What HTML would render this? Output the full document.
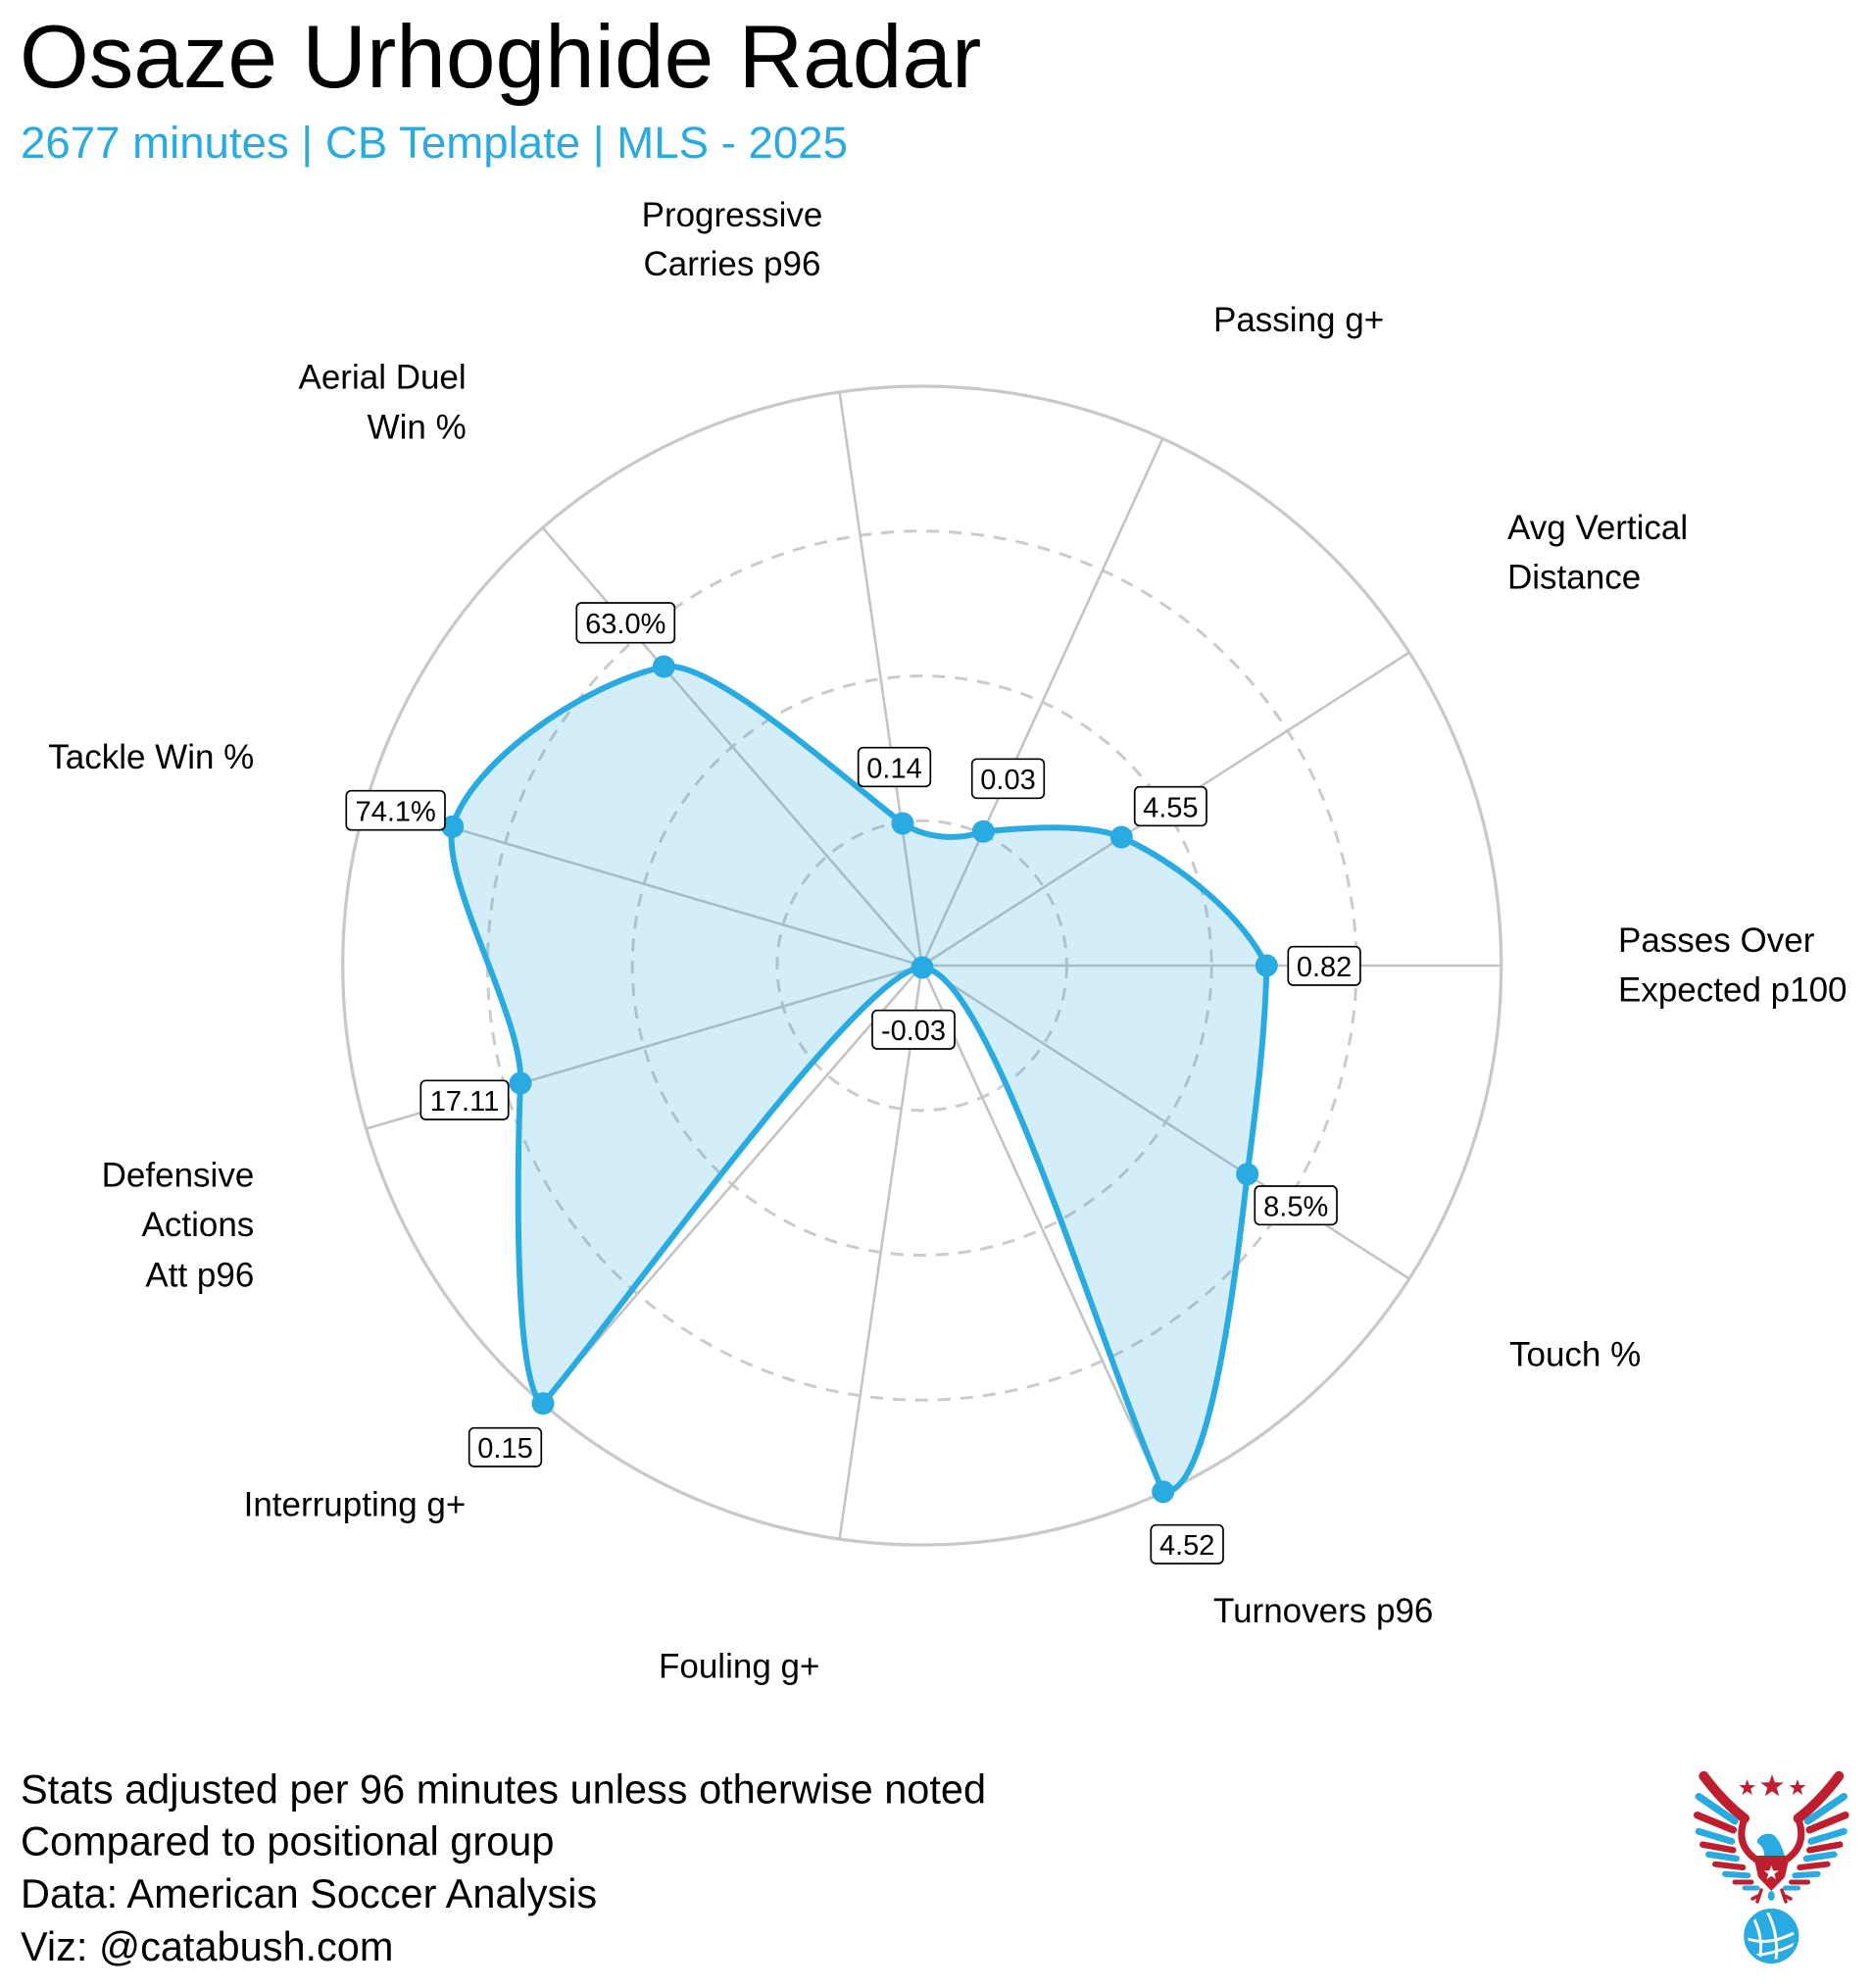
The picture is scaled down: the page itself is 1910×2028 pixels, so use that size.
<!DOCTYPE html>
<html>
<head>
<meta charset="utf-8">
<style>
  html, body { margin: 0; padding: 0; background: #ffffff; }
  svg { display: block; }
  text { font-family: "Liberation Sans", Arial, Helvetica, sans-serif; }
</style>
</head>
<body>
<svg width="1910" height="2028" viewBox="0 0 1910 2028" xmlns="http://www.w3.org/2000/svg">
  <rect x="0" y="0" width="1910" height="2028" fill="#ffffff"/>

  <!-- Title / subtitle -->
  <text x="20" y="89" font-size="91" fill="#000000">Osaze Urhoghide Radar</text>
  <text x="21" y="161" font-size="45.6" fill="#29abe2">2677 minutes | CB Template | MLS - 2025</text>

  <!-- Grid rings -->
  <g fill="none">
    <circle cx="940.7" cy="985" r="147.75" stroke="#cbcbcb" stroke-width="3" stroke-dasharray="13 10"/>
    <circle cx="940.7" cy="985" r="295.5" stroke="#cbcbcb" stroke-width="3" stroke-dasharray="13 10"/>
    <circle cx="940.7" cy="985" r="443.25" stroke="#cbcbcb" stroke-width="3" stroke-dasharray="13 10"/>
    <circle cx="940.7" cy="985" r="591" stroke="#c9c9c9" stroke-width="3.3"/>
  </g>

  <!-- Spokes -->
  <g stroke="#c4c4c4" stroke-width="2.6">
    <line x1="940.7" y1="985" x2="1531.7" y2="985"/>
    <line x1="940.7" y1="985" x2="1437.9" y2="1304.5"/>
    <line x1="940.7" y1="985" x2="1186.2" y2="1522.6"/>
    <line x1="940.7" y1="985" x2="856.6" y2="1570.0"/>
    <line x1="940.7" y1="985" x2="553.7" y2="1431.6"/>
    <line x1="940.7" y1="985" x2="373.6" y2="1151.5"/>
    <line x1="940.7" y1="985" x2="373.6" y2="818.5"/>
    <line x1="940.7" y1="985" x2="553.7" y2="538.4"/>
    <line x1="940.7" y1="985" x2="856.6" y2="400.0"/>
    <line x1="940.7" y1="985" x2="1186.2" y2="447.4"/>
    <line x1="940.7" y1="985" x2="1437.9" y2="665.5"/>
  </g>

  <!-- Radar shape -->
  <path d="M 1292.3,985
    C 1291,1060 1280,1140 1272.7,1197.7
    C 1262,1290 1235,1530 1186.7,1521.7
    C 1120,1370 1010,990 941,987
    C 880,987 640,1330 554,1431.7
    C 525,1420 527,1200 531,1105
    C 535,1040 450,900 461.7,843.3
    C 480,780 590,700 677.3,680
    C 725,672 850,785 921,840
    C 945,855 975,858 1003.3,848.3
    C 1050,844 1110,840 1144.3,854
    C 1200,880 1265,930 1292.3,985 Z"
    fill="#29abe2" fill-opacity="0.2" stroke="none"/>
  <path d="M 1292.3,985
    C 1291,1060 1280,1140 1272.7,1197.7
    C 1262,1290 1235,1530 1186.7,1521.7
    C 1120,1370 1010,990 941,987
    C 880,987 640,1330 554,1431.7
    C 525,1420 527,1200 531,1105
    C 535,1040 450,900 461.7,843.3
    C 480,780 590,700 677.3,680
    C 725,672 850,785 921,840
    C 945,855 975,858 1003.3,848.3
    C 1050,844 1110,840 1144.3,854
    C 1200,880 1265,930 1292.3,985 Z"
    fill="none" stroke="#29abe2" stroke-width="6" stroke-linejoin="round"/>

  <!-- Points -->
  <g fill="#29abe2">
    <circle cx="1292.3" cy="985" r="11.5"/>
    <circle cx="1272.7" cy="1197.7" r="11.5"/>
    <circle cx="1186.7" cy="1521.7" r="11.5"/>
    <circle cx="941" cy="987" r="11.5"/>
    <circle cx="554" cy="1431.7" r="11.5"/>
    <circle cx="531" cy="1105" r="11.5"/>
    <circle cx="461.7" cy="843.3" r="11.5"/>
    <circle cx="677.3" cy="680" r="11.5"/>
    <circle cx="921" cy="840" r="11.5"/>
    <circle cx="1003.3" cy="848.3" r="11.5"/>
    <circle cx="1144.3" cy="854" r="11.5"/>
  </g>

  <!-- Value label boxes -->
  <g fill="#ffffff" stroke="#000000" stroke-width="1.7">
    <rect x="588.3" y="615" width="100" height="40.7" rx="5"/>
    <rect x="353.3" y="806.7" width="100.7" height="40" rx="5"/>
    <rect x="875.7" y="762.7" width="73.6" height="39.6" rx="5"/>
    <rect x="991.7" y="774.3" width="73.6" height="40" rx="5"/>
    <rect x="1157.7" y="802.7" width="73.3" height="39.6" rx="5"/>
    <rect x="1314.3" y="965.7" width="73.6" height="39.3" rx="5"/>
    <rect x="1280.3" y="1210" width="83.7" height="39.3" rx="5"/>
    <rect x="1174.3" y="1555.7" width="73.7" height="39.3" rx="5"/>
    <rect x="890" y="1030.7" width="84" height="39.3" rx="5"/>
    <rect x="478.7" y="1456.7" width="73.6" height="39.3" rx="5"/>
    <rect x="429.3" y="1102.3" width="89.4" height="39.7" rx="5"/>
  </g>
  <g font-size="29" fill="#000000" text-anchor="middle">
    <text x="638.3" y="646">63.0%</text>
    <text x="403.7" y="837.5">74.1%</text>
    <text x="912.5" y="793.3">0.14</text>
    <text x="1028.5" y="805">0.03</text>
    <text x="1194.3" y="833.3">4.55</text>
    <text x="1351.1" y="996.2">0.82</text>
    <text x="1322.2" y="1240.5">8.5%</text>
    <text x="1211.2" y="1586.2">4.52</text>
    <text x="932" y="1061.2">-0.03</text>
    <text x="515.5" y="1487.2">0.15</text>
    <text x="474" y="1133">17.11</text>
  </g>

  <!-- Axis labels -->
  <g font-size="35" fill="#000000">
    <text x="747" y="231" text-anchor="middle">Progressive</text>
    <text x="747" y="281" text-anchor="middle">Carries p96</text>
    <text x="1238" y="338">Passing g+</text>
    <text x="1538" y="550">Avg Vertical</text>
    <text x="1538" y="600.6">Distance</text>
    <text x="1651" y="971">Passes Over</text>
    <text x="1651" y="1021.7">Expected p100</text>
    <text x="1540" y="1393.3">Touch %</text>
    <text x="1238" y="1655">Turnovers p96</text>
    <text x="672" y="1711.7">Fouling g+</text>
    <text x="475.3" y="1546.7" text-anchor="end">Interrupting g+</text>
    <text x="259.3" y="1210.7" text-anchor="end">Defensive</text>
    <text x="259.3" y="1261" text-anchor="end">Actions</text>
    <text x="259.3" y="1312.3" text-anchor="end">Att p96</text>
    <text x="259.3" y="784" text-anchor="end">Tackle Win %</text>
    <text x="475.7" y="396.7" text-anchor="end">Aerial Duel</text>
    <text x="475.7" y="447.3" text-anchor="end">Win %</text>
  </g>

  <!-- Footer -->
  <g font-size="41.5" fill="#000000">
    <text x="21" y="1839.3">Stats adjusted per 96 minutes unless otherwise noted</text>
    <text x="21" y="1892.6">Compared to positional group</text>
    <text x="21" y="1946">Data: American Soccer Analysis</text>
    <text x="21" y="2000">Viz: @catabush.com</text>
  </g>

  <!-- Logo -->
  <g id="logo">
    <!-- stars -->
    <g fill="#be1e2d">
      <polygon points="1782.7,1815 1784.8,1821 1791.1,1821.1 1786.1,1824.9 1787.9,1831 1782.7,1827.4 1777.5,1831 1779.3,1824.9 1774.3,1821.1 1780.6,1821"/>
      <polygon points="1808,1810 1810.9,1818.3 1819.7,1818.4 1812.7,1823.7 1815.2,1832.2 1808,1827.2 1800.8,1832.2 1803.3,1823.7 1796.3,1818.4 1805.1,1818.3"/>
      <polygon points="1834,1815 1836.1,1821 1842.4,1821.1 1837.4,1824.9 1839.2,1831 1834,1827.4 1828.8,1831 1830.6,1824.9 1825.6,1821.1 1831.9,1821"/>
    </g>
    <!-- left wing -->
    <g fill="none" stroke-linecap="round">
      <path d="M1738.3,1811.7 Q1758,1838 1780,1855" stroke="#be1e2d" stroke-width="10"/>
      <path d="M1780,1855 Q1770,1882 1792,1897" stroke="#be1e2d" stroke-width="7"/>
      <line x1="1733.3" y1="1832.7" x2="1770" y2="1857.7" stroke="#29abe2" stroke-width="7.5"/>
      <line x1="1731.7" y1="1851.7" x2="1768.3" y2="1866.7" stroke="#be1e2d" stroke-width="7.5"/>
      <line x1="1733.3" y1="1868.3" x2="1766.7" y2="1878.3" stroke="#29abe2" stroke-width="7"/>
      <line x1="1737.3" y1="1881.7" x2="1768.3" y2="1887.3" stroke="#be1e2d" stroke-width="6.5"/>
      <line x1="1743.3" y1="1891.7" x2="1771.7" y2="1896" stroke="#29abe2" stroke-width="6.5"/>
      <line x1="1750" y1="1901.7" x2="1778.3" y2="1905" stroke="#be1e2d" stroke-width="6"/>
      <line x1="1760" y1="1911.7" x2="1783.3" y2="1913.3" stroke="#29abe2" stroke-width="6"/>
      <line x1="1770" y1="1920" x2="1787" y2="1920" stroke="#be1e2d" stroke-width="5"/>
      <line x1="1780" y1="1926" x2="1793" y2="1926" stroke="#29abe2" stroke-width="5"/>
    </g>
    <!-- right wing (mirror) -->
    <g transform="translate(3614.6,0) scale(-1,1)" fill="none" stroke-linecap="round">
      <path d="M1738.3,1811.7 Q1758,1838 1780,1855" stroke="#be1e2d" stroke-width="10"/>
      <path d="M1780,1855 Q1770,1882 1792,1897" stroke="#be1e2d" stroke-width="7"/>
      <line x1="1733.3" y1="1832.7" x2="1770" y2="1857.7" stroke="#29abe2" stroke-width="7.5"/>
      <line x1="1731.7" y1="1851.7" x2="1768.3" y2="1866.7" stroke="#be1e2d" stroke-width="7.5"/>
      <line x1="1733.3" y1="1868.3" x2="1766.7" y2="1878.3" stroke="#29abe2" stroke-width="7"/>
      <line x1="1737.3" y1="1881.7" x2="1768.3" y2="1887.3" stroke="#be1e2d" stroke-width="6.5"/>
      <line x1="1743.3" y1="1891.7" x2="1771.7" y2="1896" stroke="#29abe2" stroke-width="6.5"/>
      <line x1="1750" y1="1901.7" x2="1778.3" y2="1905" stroke="#be1e2d" stroke-width="6"/>
      <line x1="1760" y1="1911.7" x2="1783.3" y2="1913.3" stroke="#29abe2" stroke-width="6"/>
      <line x1="1770" y1="1920" x2="1787" y2="1920" stroke="#be1e2d" stroke-width="5"/>
      <line x1="1780" y1="1926" x2="1793" y2="1926" stroke="#29abe2" stroke-width="5"/>
    </g>
    <!-- head -->
    <path d="M1793,1877 Q1798,1869 1808,1871 Q1815,1874 1821,1893 L1800,1893 Q1800,1884 1793,1880 Z" fill="#29abe2"/>
    <!-- body shield -->
    <path d="M1789,1893 L1826,1893 L1821,1915 L1807.3,1929 L1794,1915 Z" fill="#be1e2d"/>
    <polygon points="1807.3,1903 1809.2,1908.3 1814.8,1908.4 1810.4,1911.7 1812,1917 1807.3,1913.8 1802.6,1917 1804.2,1911.7 1799.8,1908.4 1805.4,1908.3" fill="#ffffff"/>
    <!-- talons -->
    <g stroke="#be1e2d" stroke-width="3.5" stroke-linecap="round">
      <line x1="1797" y1="1928" x2="1793" y2="1940"/>
      <line x1="1794" y1="1934" x2="1788" y2="1937"/>
      <line x1="1818" y1="1928" x2="1822" y2="1940"/>
      <line x1="1821" y1="1934" x2="1827" y2="1937"/>
    </g>
    <ellipse cx="1807.3" cy="1934" rx="3.5" ry="5" fill="#29abe2"/>
    <!-- ball -->
    <circle cx="1807.3" cy="1975" r="28" fill="#29abe2"/>
    <g fill="none" stroke="#ffffff" stroke-width="3">
      <path d="M1790,1958 Q1800,1980 1795,1998"/>
      <path d="M1803,1950 Q1815,1972 1812,2000"/>
      <path d="M1783,1978 Q1805,1985 1830,1972"/>
      <path d="M1790,1995 Q1815,1992 1833,1982"/>
    </g>
    <circle cx="1807.3" cy="1975" r="26" fill="none" stroke="#29abe2" stroke-width="4"/>
  </g>
</svg>
</body>
</html>
